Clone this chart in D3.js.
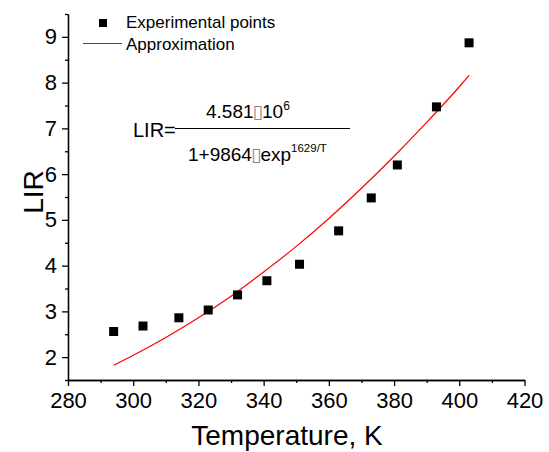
<!DOCTYPE html>
<html>
<head>
<meta charset="utf-8">
<script src="https://cdn.jsdelivr.net/npm/d3@7"></script>
<style>
  body { margin: 0; background: #fff; }
  svg { display: block; font-family: "Liberation Sans", Arial, sans-serif; }
  .axis path, .axis line { stroke: #000; stroke-width: 1.3; }
  .axis text { fill: #000; font-family: "Liberation Sans", Arial, sans-serif; }
</style>
</head>
<body>
<div id="chart"></div>
<script>
// measured points
var temps = [294, 303, 314, 323, 332, 341, 351, 363, 373, 381, 393, 403];
var lir   = [2.56, 2.68, 2.86, 3.03, 3.36, 3.67, 4.03, 4.76, 5.48, 6.20, 7.47, 8.87];

// approximation curve
var fitT   = [294, 300, 310, 320, 330, 340, 350, 360, 370, 380, 390, 400, 403];
var fitLIR = [1.82, 2.04, 2.43, 2.86, 3.33, 3.86, 4.42, 5.03, 5.69, 6.39, 7.13, 7.91, 8.16];

var xTicks = [280, 300, 320, 340, 360, 380, 400, 420];
var xMinor = [290, 310, 330, 350, 370, 390, 410];
var yTicks = [2, 3, 4, 5, 6, 7, 8, 9];
var yMinor = [1.5, 2.5, 3.5, 4.5, 5.5, 6.5, 7.5, 8.5, 9.5];

var W = 549, H = 452;
var svg = d3.select("#chart").append("svg")
    .attr("width", W)
    .attr("height", H);

var x = d3.scaleLinear().domain([280, 420]).range([68, 524.5]);
var y = d3.scaleLinear().domain([1.5, 9.5]).range([380, 14]);

// axes
svg.append("g")
    .attr("class", "axis")
    .attr("transform", "translate(0,380)")
    .call(d3.axisBottom(x).tickValues(xMinor).tickSize(3).tickSizeOuter(0).tickFormat(""));
svg.append("g")
    .attr("class", "axis")
    .attr("transform", "translate(0,380)")
    .call(d3.axisBottom(x).tickValues(xTicks).tickSize(6).tickSizeOuter(0).tickPadding(6))
    .selectAll("text").attr("font-size", 22);

svg.append("g")
    .attr("class", "axis")
    .attr("transform", "translate(68,0)")
    .call(d3.axisLeft(y).tickValues(yMinor).tickSize(3).tickSizeOuter(0).tickFormat(""));
svg.append("g")
    .attr("class", "axis")
    .attr("transform", "translate(68,0)")
    .call(d3.axisLeft(y).tickValues(yTicks).tickSize(6).tickSizeOuter(0).tickPadding(5))
    .selectAll("text").attr("font-size", 22);

// axis titles
svg.append("text")
    .attr("x", 287).attr("y", 445)
    .attr("text-anchor", "middle")
    .attr("font-size", 28)
    .text("Temperature, K");

svg.append("text")
    .attr("transform", "translate(43,192) rotate(-90)")
    .attr("text-anchor", "middle")
    .attr("font-size", 28)
    .text("LIR");

// fit line
var fitData = fitT.map(function(t, i) { return [t, fitLIR[i]]; });
var line = d3.line()
    .x(function(d) { return x(d[0]); })
    .y(function(d) { return y(d[1]); })
    .curve(d3.curveMonotoneX);

svg.append("path")
    .datum(fitData)
    .attr("fill", "none")
    .attr("stroke", "#ff0000")
    .attr("stroke-width", 1.2)
    .attr("d", line);

// points
var sq = 9;
svg.selectAll(".pt")
    .data(temps)
  .enter().append("rect")
    .attr("class", "pt")
    .attr("x", function(d) { return x(d) - sq / 2; })
    .attr("y", function(d, i) { return y(lir[i]) - sq / 2; })
    .attr("width", sq)
    .attr("height", sq)
    .attr("fill", "#000");

// legend
var leg = svg.append("g");
leg.append("rect")
    .attr("x", 99).attr("y", 19)
    .attr("width", 8).attr("height", 8)
    .attr("fill", "#000");
leg.append("text")
    .attr("x", 126).attr("y", 28)
    .attr("font-size", 17)
    .text("Experimental points");
leg.append("line")
    .attr("x1", 83).attr("x2", 122)
    .attr("y1", 43.5).attr("y2", 43.5)
    .attr("stroke", "#ff0000")
    .attr("stroke-width", 1.2);
leg.append("text")
    .attr("x", 126).attr("y", 50)
    .attr("font-size", 17)
    .text("Approximation");

// formula
var f = svg.append("g").attr("font-size", 19);
f.append("text").attr("x", 133).attr("y", 137).attr("font-size", 20).text("LIR=");

var num = f.append("text").attr("x", 206).attr("y", 118);
num.append("tspan").text("4.581");
num.append("tspan").attr("fill", "#888").attr("font-size", 19).attr("font-family", "DejaVu Sans").attr("dx", -1).text("\u25AF");
num.append("tspan").attr("dx", -1).text("10");
num.append("tspan").attr("font-size", 12).attr("dy", -8).text("6");

f.append("line")
    .attr("x1", 175).attr("x2", 350)
    .attr("y1", 128.5).attr("y2", 128.5)
    .attr("stroke", "#000")
    .attr("stroke-width", 1);

var den = f.append("text").attr("x", 188).attr("y", 161);
den.append("tspan").text("1+9864");
den.append("tspan").attr("fill", "#888").attr("font-size", 19).attr("font-family", "DejaVu Sans").attr("dx", -1).text("\u25AF");
den.append("tspan").attr("dx", -1).text("exp");
den.append("tspan").attr("font-size", 11.5).attr("dy", -9).text("1629/T");
</script>
</body>
</html>
